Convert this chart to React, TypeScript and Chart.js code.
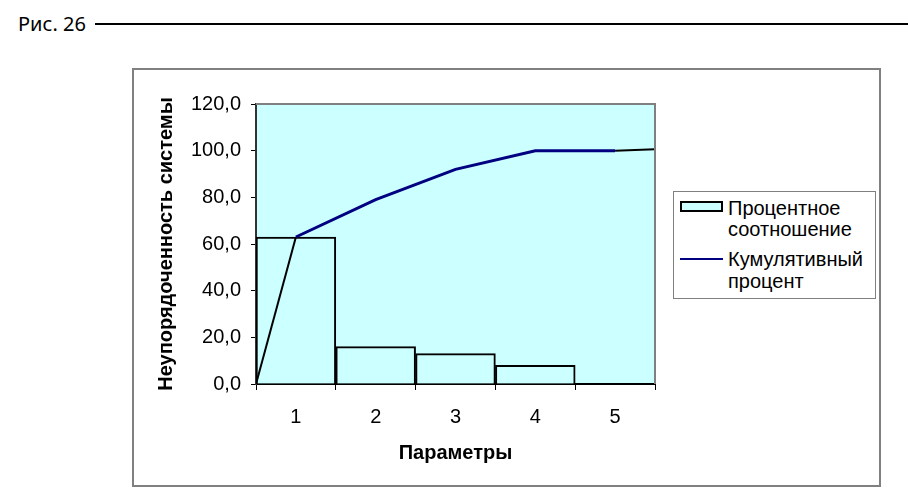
import React, { useEffect, useRef } from "react";
import { Chart, registerables } from "chart.js";

Chart.register(...registerables);

const categories = ["1", "2", "3", "4", "5"];
const percentShare = [63, 16, 13, 8, 0];
const cumulativePercent = [63, 79, 92, 100, 100];
const leadInLine = [
  { x: 0.5, y: 0 },
  { x: 1, y: 63 },
];
const leadOutLine = [
  { x: 5, y: 100 },
  { x: 5.5, y: 100.6 },
];
const yTicks = { min: 0, max: 120, step: 20 };

const FONT = "'Liberation Sans', Arial, sans-serif";

const plotBg = {
  id: "plotBg",
  beforeDraw(chart: any) {
    const { ctx, chartArea: a } = chart;
    ctx.save();
    ctx.fillStyle = "#CCFFFF";
    ctx.fillRect(a.left, a.top, a.right - a.left, a.bottom - a.top);
    ctx.restore();
  },
  afterDatasetsDraw(chart: any) {
    const { ctx, chartArea: a } = chart;
    ctx.save();
    ctx.strokeStyle = "#808080";
    ctx.lineWidth = 2;
    ctx.beginPath();
    ctx.moveTo(a.left, a.top);
    ctx.lineTo(a.right, a.top);
    ctx.lineTo(a.right, a.bottom);
    ctx.stroke();
    ctx.restore();
  },
};

export default function App() {
  const ref = useRef<HTMLCanvasElement | null>(null);

  useEffect(() => {
    if (!ref.current) return;
    const chart = new Chart(ref.current, {
      type: "bar",
      data: {
        labels: categories,
        datasets: [
          {
            type: "line",
            label: "Кумулятивный процент",
            data: cumulativePercent.map((v, i) => ({ x: i + 1, y: v })),
            xAxisID: "x2",
            yAxisID: "y",
            borderColor: "#000080",
            borderWidth: 3,
            pointRadius: 0,
            tension: 0,
            order: 0,
          } as any,
          {
            type: "line",
            label: "lead-in",
            data: leadInLine,
            xAxisID: "x2",
            yAxisID: "y",
            borderColor: "#000000",
            borderWidth: 2,
            pointRadius: 0,
            order: 1,
          } as any,
          {
            type: "line",
            label: "lead-out",
            data: leadOutLine,
            xAxisID: "x2",
            yAxisID: "y",
            borderColor: "#000000",
            borderWidth: 2,
            pointRadius: 0,
            order: 1,
          } as any,
          {
            type: "bar",
            label: "Процентное соотношение",
            data: percentShare,
            xAxisID: "x",
            yAxisID: "y",
            backgroundColor: "#CCFFFF",
            borderColor: "#000000",
            borderWidth: 2,
            borderSkipped: "start",
            grouped: false,
            categoryPercentage: 1,
            barPercentage: 1,
            order: 2,
          } as any,
        ],
      },
      options: {
        animation: false,
        responsive: false,
        layout: { padding: { top: 34, right: 224, bottom: 0, left: 0 } },
        plugins: { legend: { display: false }, tooltip: { enabled: false } },
        scales: {
          x: {
            type: "category",
            offset: true,
            afterFit: (s: any) => {
              s.height = 101;
            },
            grid: {
              offset: true,
              drawOnChartArea: false,
              drawTicks: true,
              tickLength: 6,
              color: "#000000",
            },
            border: { display: true, color: "#000000", width: 2 },
            ticks: { color: "#000000", font: { family: FONT, size: 20 }, padding: 15 },
            title: {
              display: true,
              text: "Параметры",
              color: "#000000",
              font: { family: FONT, size: 20, weight: "bold" },
              padding: { top: 0, bottom: 20 },
            },
          },
          x2: {
            type: "linear",
            position: "bottom",
            min: 0.5,
            max: 5.5,
            offset: false,
            display: false,
          },
          y: {
            min: yTicks.min,
            max: yTicks.max,
            afterFit: (s: any) => {
              s.width = 122;
            },
            grid: {
              drawOnChartArea: false,
              drawTicks: true,
              tickLength: 5,
              color: "#000000",
            },
            border: { display: true, color: "#333333", width: 2 },
            ticks: {
              stepSize: yTicks.step,
              color: "#000000",
              font: { family: FONT, size: 20 },
              padding: 10,
              callback: (v: any) => Number(v).toFixed(1).replace(".", ","),
            },
            title: {
              display: true,
              text: "Неупорядоченность системы",
              color: "#000000",
              font: { family: FONT, size: 20, weight: "bold" },
              padding: { top: 20, bottom: 0 },
            },
          },
        },
      } as any,
      plugins: [plotBg],
    });
    return () => chart.destroy();
  }, []);

  const legendText: React.CSSProperties = {
    position: "absolute",
    left: 728,
    fontFamily: FONT,
    fontSize: 20,
    lineHeight: "21px",
    color: "#000",
    whiteSpace: "nowrap",
  };

  return (
    <div style={{ position: "absolute", left: 0, top: 0, width: 908, height: 498, background: "#fff", overflow: "hidden" }}>
      <div
        style={{
          position: "absolute",
          left: 18,
          top: 11,
          fontFamily: "'Noto Sans', sans-serif",
          fontSize: 20,
          lineHeight: "26px",
          color: "#000",
        }}
      >
        Рис. 26
      </div>
      <div style={{ position: "absolute", left: 95, top: 23, width: 813, height: 2, background: "#000" }} />
      <div
        style={{
          position: "absolute",
          left: 132,
          top: 68,
          width: 749,
          height: 419,
          boxSizing: "border-box",
          border: "2px solid #808080",
        }}
      />
      <canvas
        ref={ref}
        width={745}
        height={415}
        style={{ position: "absolute", left: 134, top: 70, width: 745, height: 415 }}
      />
      <div
        style={{
          position: "absolute",
          left: 673,
          top: 191,
          width: 203,
          height: 108,
          boxSizing: "border-box",
          border: "1px solid #808080",
          background: "#fff",
        }}
      />
      <div
        style={{
          position: "absolute",
          left: 680,
          top: 201,
          width: 43,
          height: 11,
          boxSizing: "border-box",
          border: "2px solid #000",
          background: "#CCFFFF",
        }}
      />
      <div style={{ ...legendText, top: 198 }}>Процентное</div>
      <div style={{ ...legendText, top: 219 }}>соотношение</div>
      <div style={{ position: "absolute", left: 680, top: 258, width: 43, height: 2, background: "#000080" }} />
      <div style={{ ...legendText, top: 249 }}>Кумулятивный</div>
      <div style={{ ...legendText, top: 271 }}>процент</div>
    </div>
  );
}
